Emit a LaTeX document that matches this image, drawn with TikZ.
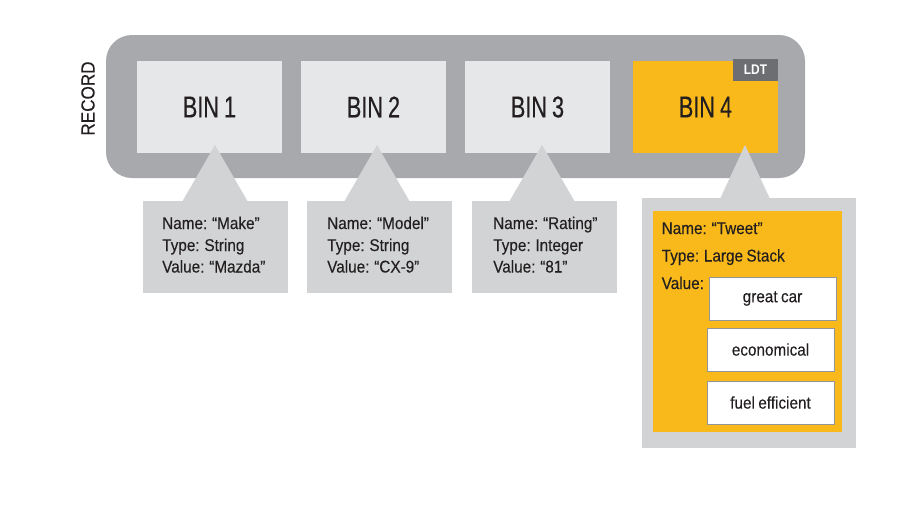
\documentclass[tikz,border=0pt]{standalone}
\usepackage{fontspec}
\setmainfont{Liberation Sans}
\newfontfamily\binfont{Liberation Sans}[FakeStretch=0.72, FakeBold=0.35, WordSpace=0.85]
\newfontfamily\txtfont{Liberation Sans}[FakeStretch=0.9, WordSpace=0.8, FakeBold=0.2]
\newfontfamily\ldtfont{Liberation Sans}[FakeStretch=0.85]
\usetikzlibrary{calc}
\definecolor{recgrey}{HTML}{A7A9AC}
\definecolor{binfill}{HTML}{E6E7E8}
\definecolor{calloutgrey}{HTML}{D1D3D4}
\definecolor{ldtyellow}{HTML}{F9B91A}
\definecolor{ldtgrey}{HTML}{6D6E71}
\definecolor{boxedge}{HTML}{939598}
\definecolor{inktext}{HTML}{231F20}
\begin{document}
\begin{tikzpicture}[x=1pt,y=-1pt,
  recbox/.style={fill=recgrey, rounded corners=26pt, minimum width=699pt, minimum height=143pt, inner sep=0pt},
  bin/.style={fill=binfill, text=inktext, minimum width=145pt, minimum height=92pt, inner sep=0pt, font=\binfont\fontsize{30}{30}\selectfont},
  calloutbox/.style={fill=calloutgrey, minimum width=145pt, minimum height=92pt, inner sep=0pt},
  calltri/.style={fill=calloutgrey},
  infotext/.style={anchor=base west, inner sep=0pt, text=inktext, font=\txtfont\fontsize{17}{17}\selectfont},
  valbox/.style={fill=white, draw=boxedge, line width=0.8pt, text=inktext, minimum width=127pt, minimum height=43pt, inner sep=0pt, font=\txtfont\fontsize{17}{17}\selectfont},
  ldttag/.style={fill=ldtgrey, text=white, minimum width=45pt, minimum height=22pt, inner sep=0pt, font=\ldtfont\bfseries\fontsize{14}{14}\selectfont}
]
\useasboundingbox (0,0) rectangle (904,528);
\fill[white] (0,0) rectangle (904,528);

% record
\node[recbox] (record) at (455.5,106.5) {};
\node[rotate=90, inner sep=0pt, text=inktext, font=\txtfont\fontsize{19}{19}\selectfont] (reclabel) at (88,98.5) {RECORD};

% bins
\node[bin] (bin1) at (209.5,107) {BIN 1};
\node[bin] (bin2) at (373.5,107) {BIN 2};
\node[bin] (bin3) at (537.5,107) {BIN 3};
\node[bin, fill=ldtyellow] (bin4) at (705.5,107) {BIN 4};
\node[ldttag] (ldt) at (755.5,70) {LDT};

% callout boxes
\node[calloutbox] (c1) at (215.5,247) {};
\node[calloutbox] (c2) at (379.5,247) {};
\node[calloutbox] (c3) at (544.5,247) {};
\node[fill=calloutgrey, minimum width=214pt, minimum height=250pt, inner sep=0pt] (c4) at (749,323) {};

% callout pointers
\coordinate (a1) at (215,145);
\coordinate (a2) at (377,145);
\coordinate (a3) at (542,145);
\coordinate (a4) at (745,145);
\fill[calltri] (a1) -- ($(a1)+(-33,57)$) -- ($(a1)+(33,57)$) -- cycle;
\fill[calltri] (a2) -- ($(a2)+(-33,57)$) -- ($(a2)+(33,57)$) -- cycle;
\fill[calltri] (a3) -- ($(a3)+(-33,57)$) -- ($(a3)+(33,57)$) -- cycle;
\fill[calltri] (a4) -- ($(a4)+(-25,54)$) -- ($(a4)+(25,54)$) -- cycle;

% callout texts
\node[infotext] (n1) at (162,229) {Name: “Make”};
\node[infotext] (t1) at (162,251) {Type: String};
\node[infotext] (v1) at (162,272.5) {Value: “Mazda”};
\node[infotext] (n2) at (327,229) {Name: “Model”};
\node[infotext] (t2) at (327,251) {Type: String};
\node[infotext] (v2) at (327,272.5) {Value: “CX-9”};
\node[infotext] (n3) at (493,229) {Name: “Rating”};
\node[infotext] (t3) at (493,251) {Type: Integer};
\node[infotext] (v3) at (493,272.5) {Value: “81”};

% LDT detail
\node[fill=ldtyellow, minimum width=189pt, minimum height=221pt, inner sep=0pt] (inner4) at (747.5,321.5) {};
\node[infotext] (n4) at (661.5,234) {Name: “Tweet”};
\node[infotext] (t4) at (661.5,261.5) {Type: Large Stack};
\node[infotext] (v4) at (661.5,289) {Value:};
\node[valbox] (e1) at (772.5,298.5) {great car};
\node[valbox] (e2) at (770.5,349.5) {economical};
\node[valbox] (e3) at (770.5,402.5) {fuel efficient};
\end{tikzpicture}
\end{document}
